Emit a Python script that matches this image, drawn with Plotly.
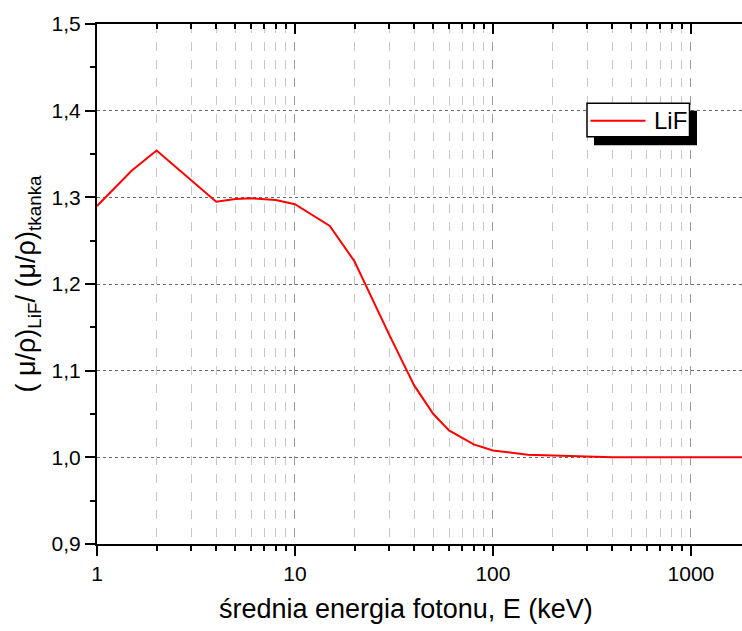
import numpy as np
import plotly.graph_objects as go

# Photon energy (keV) and mass attenuation coefficient ratio LiF / tissue
energy_kev = [1, 1.5, 2, 3, 4, 5, 6, 8, 10, 15, 20, 30, 40, 50, 60, 80,
              100, 150, 200, 300, 400, 500, 600, 800, 1000, 1500, 2000]
ratio_lif = [1.290, 1.331, 1.354, 1.320, 1.295, 1.298, 1.299, 1.297, 1.292,
             1.267, 1.226, 1.141, 1.083, 1.050, 1.031, 1.015,
             1.008, 1.003, 1.002, 1.001, 1.000, 1.000, 1.000, 1.000, 1.000,
             1.000, 1.000]

W, H = 742, 631
L, R, T, B = 97, 0, 24, 87
PW, PH = W - L - R, H - T - B

x_max = 1812  # right edge of the visible energy range
font = "Liberation Sans, Arial, sans-serif"


def px_to_paper(px, py):
    return (px - L) / PW, 1 - (py - T) / PH


fig = go.Figure()
fig.add_trace(go.Scatter(
    x=energy_kev, y=ratio_lif, mode="lines", name="LiF",
    line=dict(color="#ff0000", width=2), showlegend=False,
))

xrange = [0, np.log10(x_max)]
minor_x = dict(dtick="D1", ticks="outside", ticklen=5, tickwidth=1.5,
               tickcolor="black", showgrid=True, gridcolor="#c8c8c8",
               griddash="dash", gridwidth=1)

fig.update_layout(
    width=W, height=H,
    margin=dict(l=L, r=R, t=T, b=B),
    paper_bgcolor="white", plot_bgcolor="white",
    separators=",.",
    font=dict(family=font, size=21, color="black"),
    xaxis=dict(
        type="log", range=xrange, dtick=1, exponentformat="none",
        ticks="outside", ticklen=10, tickwidth=2, tickcolor="black",
        showline=True, linecolor="black", linewidth=2,
        showgrid=True, gridcolor="#9a9a9a", griddash="dash", gridwidth=1,
        zeroline=False, minor=minor_x,
        tickfont=dict(size=21),
    ),
    xaxis2=dict(
        type="log", range=xrange, dtick=1, overlaying="x", side="top",
        anchor="y", matches="x",
        ticks="inside", ticklen=10, tickwidth=2, tickcolor="black",
        showticklabels=False, showline=True, linecolor="black", linewidth=2,
        showgrid=False, zeroline=False,
        minor=dict(dtick="D1", ticks="inside", ticklen=5, tickwidth=1.5,
                   tickcolor="black", showgrid=False),
    ),
    yaxis=dict(
        range=[0.9, 1.5], dtick=0.1, tickformat=".1f",
        ticks="outside", ticklen=10, tickwidth=2, tickcolor="black",
        showline=True, linecolor="black", linewidth=2,
        showgrid=True, gridcolor="#6a6a6a", griddash="dot", gridwidth=1,
        zeroline=False,
        minor=dict(dtick=0.05, ticks="outside", ticklen=5, tickwidth=1.5,
                   tickcolor="black", showgrid=False),
        tickfont=dict(size=21),
        title=dict(text="( μ/ρ)<sub>LiF</sub>/ (μ/ρ)<sub>tkanka</sub>",
                   font=dict(size=27), standoff=8),
    ),
)

# an empty trace so the top axis is drawn
fig.add_trace(go.Scatter(x=[energy_kev[0]], y=[ratio_lif[0]], xaxis="x2",
                         mode="markers", marker=dict(opacity=0),
                         showlegend=False, hoverinfo="skip"))

# x-axis title
xt, yt = px_to_paper(406, 609)
fig.add_annotation(text="średnia energia fotonu, E (keV)", xref="paper",
                   yref="paper", x=xt, y=yt, xanchor="center",
                   yanchor="middle", showarrow=False,
                   font=dict(size=27, color="black"))

# legend box with drop shadow
sx0, sy0 = px_to_paper(594, 110.7)
sx1, sy1 = px_to_paper(697, 145.3)
bx0, by0 = px_to_paper(587, 103.3)
bx1, by1 = px_to_paper(689.5, 136.7)
lx0, ly = px_to_paper(590.5, 120.7)
lx1, _ = px_to_paper(645.5, 120.7)
tx, ty = px_to_paper(651.5, 120.5)

fig.add_shape(type="rect", xref="paper", yref="paper",
              x0=sx0, y0=sy0, x1=sx1, y1=sy1,
              fillcolor="black", line=dict(width=0), layer="above")
fig.add_shape(type="rect", xref="paper", yref="paper",
              x0=bx0, y0=by0, x1=bx1, y1=by1,
              fillcolor="white", line=dict(color="black", width=1.5),
              layer="above")
fig.add_shape(type="line", xref="paper", yref="paper",
              x0=lx0, y0=ly, x1=lx1, y1=ly,
              line=dict(color="#ff0000", width=2), layer="above")
fig.add_annotation(text="LiF", xref="paper", yref="paper", x=tx, y=ty,
                   xanchor="left", yanchor="middle", showarrow=False,
                   font=dict(size=24, color="black"))

fig.write_html("out.html")
